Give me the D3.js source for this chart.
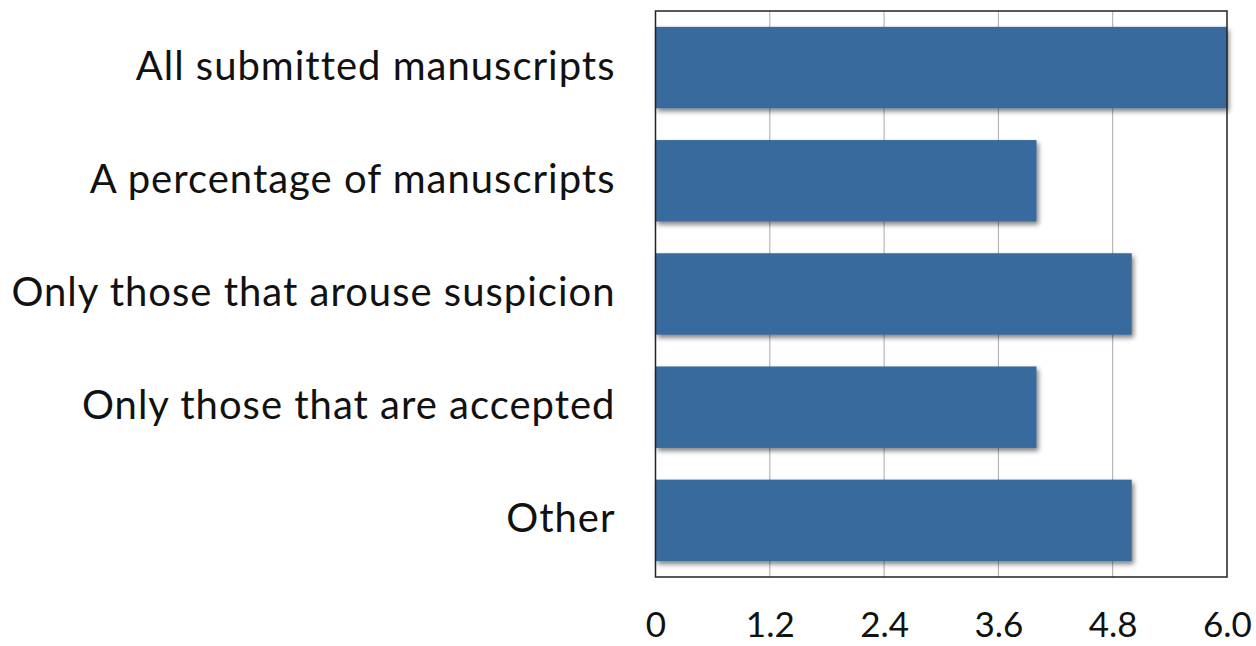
<!DOCTYPE html>
<html>
<head>
<meta charset="utf-8">
<script src="https://cdn.jsdelivr.net/npm/d3@7"></script>
<style>
  html, body { margin: 0; padding: 0; background: #fff; }
  svg { display: block; }
  .cat text, .val text { font-family: Lato, "Open Sans", sans-serif; fill: #111; }
</style>
</head>
<body>
<svg id="chart" width="1256" height="646"></svg>
<script>
// Screening scope categories and their counts
const categories = [
  "All submitted manuscripts",
  "A percentage of manuscripts",
  "Only those that arouse suspicion",
  "Only those that are accepted",
  "Other"
];
const values = [6, 4, 5, 4, 5];
const tickValues = [0, 1.2, 2.4, 3.6, 4.8, 6.0];
const tickLabels = ["0", "1.2", "2.4", "3.6", "4.8", "6.0"];

const svg = d3.select("#chart");
const plot = { left: 655.5, right: 1227, top: 11, bottom: 577 };

const x = d3.scaleLinear().domain([0, 6]).range([plot.left, plot.right]);
const y = d3.scaleBand().domain(categories).range([plot.top, plot.bottom])
  .paddingInner(0.28).paddingOuter(0.14);

// Soft drop shadow under each bar
const defs = svg.append("defs");
const f = defs.append("filter").attr("id", "shadow")
  .attr("x", "-5%").attr("y", "-20%").attr("width", "115%").attr("height", "150%");
f.append("feGaussianBlur").attr("in", "SourceAlpha").attr("stdDeviation", 2.5).attr("result", "b");
f.append("feOffset").attr("in", "b").attr("dx", 2).attr("dy", 2.5).attr("result", "o");
f.append("feComponentTransfer").attr("in", "o").attr("result", "s")
  .append("feFuncA").attr("type", "linear").attr("slope", 0.5);
const m = f.append("feMerge");
m.append("feMergeNode").attr("in", "s");
m.append("feMergeNode").attr("in", "SourceGraphic");

// Vertical gridlines
svg.append("g").selectAll("line").data(tickValues.slice(1, -1)).join("line")
  .attr("x1", d => x(d)).attr("x2", d => x(d))
  .attr("y1", plot.top).attr("y2", plot.bottom)
  .attr("stroke", "#a8a8a8").attr("stroke-width", 1);

// Bars
svg.append("g").selectAll("rect").data(categories).join("rect")
  .attr("x", x(0))
  .attr("y", d => y(d))
  .attr("width", (d, i) => x(values[i]) - x(0))
  .attr("height", y.bandwidth())
  .attr("fill", "#396b9d")
  .attr("filter", "url(#shadow)");

// Plot frame
svg.append("rect")
  .attr("x", plot.left).attr("y", plot.top)
  .attr("width", plot.right - plot.left).attr("height", plot.bottom - plot.top)
  .attr("fill", "none").attr("stroke", "#222").attr("stroke-width", 1.5);

// Category axis
const yAxis = svg.append("g").attr("class", "cat")
  .attr("transform", `translate(${plot.left},0)`)
  .call(d3.axisLeft(y).tickSize(0).tickPadding(40));
yAxis.select(".domain").remove();
yAxis.selectAll("text")
  .style("font-size", "40px")
  .style("letter-spacing", "1px")
  .attr("dy", "0.3em");

// Value axis
const xAxis = svg.append("g").attr("class", "val")
  .attr("transform", `translate(0,${plot.bottom})`)
  .call(d3.axisBottom(x).tickValues(tickValues).tickSize(0).tickPadding(35)
    .tickFormat((d, i) => tickLabels[i]));
xAxis.select(".domain").remove();
xAxis.selectAll("text").style("font-size", "35px");
</script>
</body>
</html>
